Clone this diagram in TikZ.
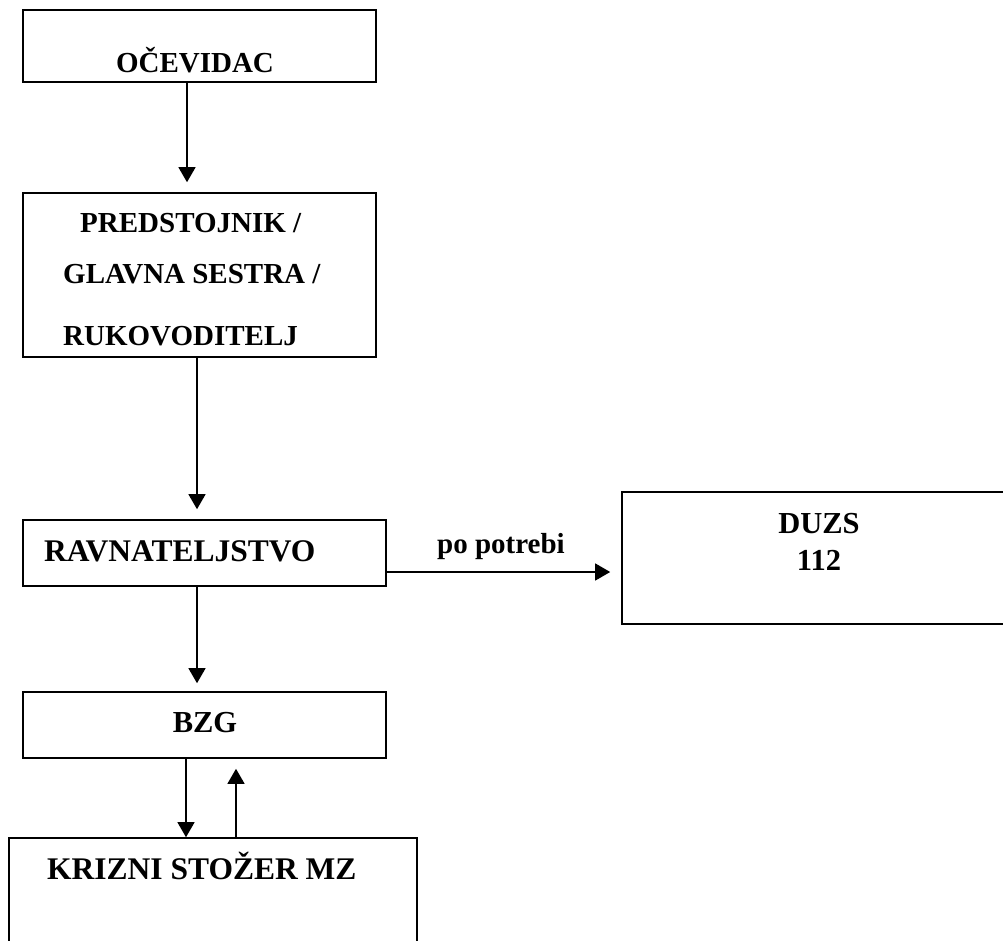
\documentclass[tikz,border=0pt]{standalone}
\usepackage{fontspec}
\setmainfont{Liberation Serif}
\usetikzlibrary{arrows.meta}
\tikzset{
  box/.style={draw, line width=1.6pt, rectangle, inner sep=0pt, minimum width=#1},
  lbl/.style={inner sep=0pt, font=\bfseries\fontsize{29}{35}\selectfont},
  lblb/.style={inner sep=0pt, font=\bfseries\fontsize{31.5}{37}\selectfont},
  arr/.style={line width=1.3pt, -{Triangle[length=15pt,width=17pt]}},
}
\begin{document}
\begin{tikzpicture}[x=1pt,y=-1pt]
\useasboundingbox (0,0) rectangle (1003,941);
\clip (0,0) rectangle (1003,941);
% boxes
\node[box=353pt, minimum height=72pt]  (ocev) at (199.5,46) {};
\node[box=353pt, minimum height=164pt] (pred) at (199.5,275) {};
\node[box=363pt, minimum height=66pt]  (ravn) at (204.5,553) {};
\node[box=390pt, minimum height=132pt] (duzs) at (817,558) {};
\node[box=363pt, minimum height=66pt]  (bzg)  at (204.5,725) {};
\node[box=408pt, minimum height=120pt] (kriz) at (213,898) {};
% texts
\node[lbl, anchor=base] (tocev) at (195,73) {OČEVIDAC};
\node[lbl, anchor=base west] (tpred1) at (80,233) {PREDSTOJNIK /};
\node[lbl, anchor=base west] (tpred2) at (63,283) {GLAVNA SESTRA /};
\node[lbl, anchor=base west] (tpred3) at (63,345) {RUKOVODITELJ};
\node[lblb, anchor=base west] (travn) at (44,561) {RAVNATELJSTVO};
\node[lbl, font=\bfseries\fontsize{30.5}{36}\selectfont, anchor=base] (tduzs1) at (819,533) {DUZS};
\node[lbl, font=\bfseries\fontsize{30.5}{36}\selectfont, anchor=base] (tduzs2) at (819,570) {112};
\node[lbl, font=\bfseries\fontsize{30.5}{36}\selectfont, anchor=base] (tbzg) at (205,732) {BZG};
\node[lblb, anchor=base west] (tkriz) at (47,879) {KRIZNI STOŽER MZ};
\node[lbl, anchor=base west] (tpp) at (437,553) {po potrebi};
% helper coordinates for connector columns / rows
\coordinate (xa) at (187,0);
\coordinate (xb) at (197,0);
\coordinate (xc) at (186,0);
\coordinate (xd) at (236,0);
\coordinate (yh) at (0,572);
% connectors
\draw[arr, shorten >=10pt] (ocev.south -| xa) -- (pred.north -| xa);
\draw[arr, shorten >=10pt] (pred.south -| xb) -- (ravn.north -| xb);
\draw[arr, shorten >=8pt]  (ravn.south -| xb) -- (bzg.north -| xb);
\draw[arr, shorten >=11pt] (ravn.east |- yh) -- (duzs.west |- yh);
\draw[arr] (bzg.south -| xc) -- (kriz.north -| xc);
\draw[arr, shorten >=10pt] (kriz.north -| xd) -- (bzg.south -| xd);
\end{tikzpicture}
\end{document}
